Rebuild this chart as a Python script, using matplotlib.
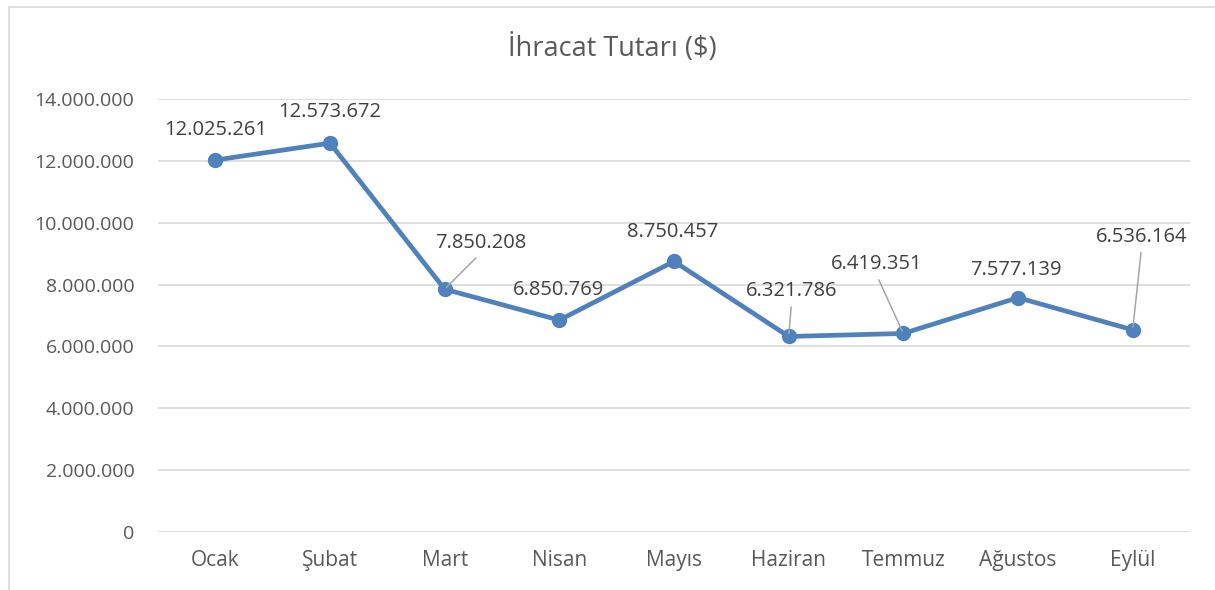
#line chart of monthly export amounts

import matplotlib.pyplot as plt
from matplotlib.patches import Rectangle

#data
months = ['Ocak', 'Şubat', 'Mart', 'Nisan', 'Mayıs',
          'Haziran', 'Temmuz', 'Ağustos', 'Eylül']
values = [12025261, 12573672, 7850208, 6850769, 8750457,
          6321786, 6419351, 7577139, 6536164]
y_ticks = [0, 2000000, 4000000, 6000000, 8000000,
           10000000, 12000000, 14000000]

#label offsets in pixels (dx, dy) and whether a leader line is drawn
label_offsets = [(0, 30), (0, 31), (36, 46), (-1, 30), (-1, 29),
                 (3, 45), (-27, 69), (-2, 28), (9, 93)]
leaders = [False, False, True, False, False, True, True, False, True]


def fmt(v):
    return f'{v:,.0f}'.replace(',', '.')


plt.rcParams['font.family'] = ['Open Sans', 'DejaVu Sans']
text_col = '#595959'
line_col = '#4f81bd'
grid_col = '#d9d9d9'

fig = plt.figure(figsize=(12.15, 5.90), dpi=100)
ax = fig.add_axes([158 / 1215, 1 - 532 / 590, 1032 / 1215, 433 / 590])

#chart border (top and left visible)
fig.patches.append(Rectangle((9 / 1215, -0.1), 1.2, 1 - 7 / 590 + 0.1,
                             transform=fig.transFigure, fill=False,
                             edgecolor='#d9d9d9', lw=1.2))

x = list(range(len(months)))
ax.plot(x, values, color=line_col, lw=3.4, marker='o', ms=10,
        solid_capstyle='round', zorder=3, clip_on=False)

#data labels
px = 0.72
for i, v in enumerate(values):
    dx, dy = label_offsets[i]
    arrow = None
    if leaders[i]:
        arrow = dict(arrowstyle='-', color='#a6a6a6', lw=1.1,
                     shrinkA=2, shrinkB=2, relpos=(0.5, 0.0))
    ax.annotate(fmt(v), (i, v), xytext=(dx * px, dy * px),
                textcoords='offset points', ha='center', va='center',
                fontsize=14.5, color='#404040', arrowprops=arrow, zorder=4)

#axes
ax.set_xlim(-0.5, len(months) - 0.5)
ax.set_ylim(0, 14000000)
ax.set_xticks(x)
ax.set_xticklabels(months, fontsize=15, color=text_col)
ax.set_yticks(y_ticks)
ax.set_yticklabels([fmt(t) for t in y_ticks], fontsize=14, color=text_col)
ax.tick_params(axis='x', length=0, pad=13)
ax.tick_params(axis='y', length=0, pad=17)

#grid
ax.grid(axis='y', color=grid_col, lw=1.2)
ax.set_axisbelow(True)
for s in ax.spines.values():
    s.set_visible(False)

#title
fig.text(612 / 1215, 1 - 48 / 590, 'İhracat Tutarı ($)', ha='center',
         va='center', fontsize=19.5, color=text_col)

fig.savefig('out.png', dpi=100)
